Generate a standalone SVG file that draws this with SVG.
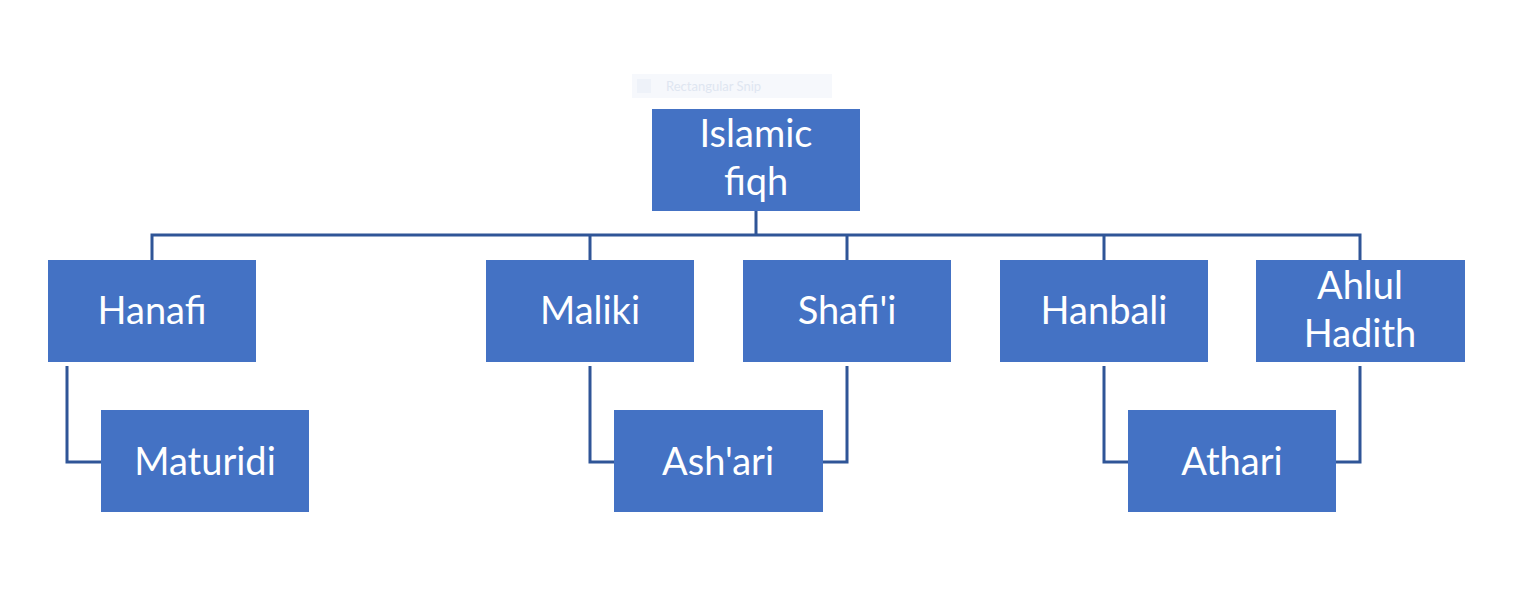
<svg xmlns="http://www.w3.org/2000/svg" width="1513" height="607" viewBox="0 0 1513 607">
<style>
.n rect{fill:#4472c4}
.n text{fill:#fff;font-family:Lato,"Open Sans",sans-serif;font-size:38px;text-anchor:middle}
#c path{fill:none;stroke:#2f5597;stroke-width:3}
</style>
<rect width="1513" height="607" fill="#fff"/>
<rect x="632" y="74" width="200" height="24" fill="#f6f8fc"/>
<rect x="637" y="79" width="14" height="14" fill="#eef2f9"/>
<text x="666" y="91" font-family="Lato,sans-serif" font-size="13" fill="#dfe6f1">Rectangular Snip</text>
<g id="c">
<path d="M756 211V235M152 260V235H1360V260M590 235V260M847 235V260M1104 235V260"/>
<path d="M67 366V462H101M590 366V462H614M847 366V462H823M1104 366V462H1128M1360 366V462H1336"/>
</g>
<g id="root" class="n"><rect x="652" y="109" width="208" height="102"/><text x="756" y="147">Islamic</text><text x="756" y="195">fiqh</text></g>
<g id="hanafi" class="n"><rect x="48" y="260" width="208" height="102"/><text x="152" y="324">Hanafi</text></g>
<g id="maliki" class="n"><rect x="486" y="260" width="208" height="102"/><text x="590" y="324">Maliki</text></g>
<g id="shafii" class="n"><rect x="743" y="260" width="208" height="102"/><text x="847" y="324">Shafi'i</text></g>
<g id="hanbali" class="n"><rect x="1000" y="260" width="208" height="102"/><text x="1104" y="324">Hanbali</text></g>
<g id="ahlul" class="n"><rect x="1256" y="260" width="209" height="102"/><text x="1360" y="299">Ahlul</text><text x="1360" y="347">Hadith</text></g>
<g id="maturidi" class="n"><rect x="101" y="410" width="208" height="102"/><text x="205" y="475">Maturidi</text></g>
<g id="ashari" class="n"><rect x="614" y="410" width="209" height="102"/><text x="718" y="475">Ash'ari</text></g>
<g id="athari" class="n"><rect x="1128" y="410" width="208" height="102"/><text x="1232" y="475">Athari</text></g>
</svg>
